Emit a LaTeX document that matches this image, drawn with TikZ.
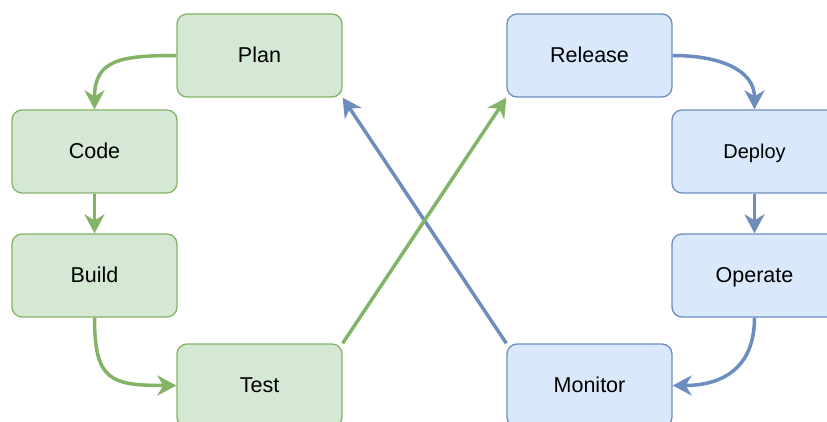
\documentclass[tikz,border=0pt]{standalone}
\usepackage{fontspec}
\setmainfont{Liberation Sans}
\usetikzlibrary{arrows.meta}
\definecolor{gfill}{HTML}{D5E8D4}
\definecolor{gline}{HTML}{82B366}
\definecolor{bfill}{HTML}{DAE8FC}
\definecolor{bline}{HTML}{6C8EBF}
\tikzset{
  box/.style={rectangle, rounded corners=10pt, minimum width=165pt, minimum height=83pt,
    line width=1.3pt, inner sep=0pt, text height=16pt, text depth=2pt,
    font=\fontsize{21.5}{24}\selectfont, text=black},
  gbox/.style={box, draw=gline, fill=gfill},
  bbox/.style={box, draw=bline, fill=bfill},
  conn/.style={line width=3.5pt, -{Stealth[length=19pt,width=20pt,inset=6pt]}},
  gconn/.style={conn, draw=gline},
  bconn/.style={conn, draw=bline}
}
\begin{document}
\begin{tikzpicture}[x=1pt,y=-1pt]
\useasboundingbox (0,0) rectangle (827,422);
\node[gbox] (plan) at (259.5,55.5) {Plan};
\node[gbox] (code) at (94.5,151.5) {Code};
\node[gbox] (build) at (94.5,275.5) {Build};
\node[gbox] (test) at (259.5,385.5) {Test};
\node[bbox] (release) at (589.5,55.5) {Release};
\node[bbox, font=\fontsize{20}{24}\selectfont] (deploy) at (754.5,151.5) {Deploy};
\node[bbox] (operate) at (754.5,275.5) {Operate};
\node[bbox] (monitor) at (589.5,385.5) {Monitor};
% blue connectors
\draw[bconn] (release.east) .. controls (720,55.5) and (754.5,70) .. (deploy.north);
\draw[bconn] (deploy.south) -- (operate.north);
\draw[bconn] (operate.south) .. controls (754.5,370) and (720,385.5) .. (monitor.east);
\draw[bconn] (monitor.north west) -- (plan.south east);
% green connectors
\draw[gconn] (plan.west) .. controls (120,55.5) and (94.5,60) .. (code.north);
\draw[gconn] (code.south) -- (build.north);
\draw[gconn] (build.south) .. controls (94.5,380) and (110,385.5) .. (test.west);
\draw[gconn] (test.north east) -- (release.south west);
\end{tikzpicture}
\end{document}
